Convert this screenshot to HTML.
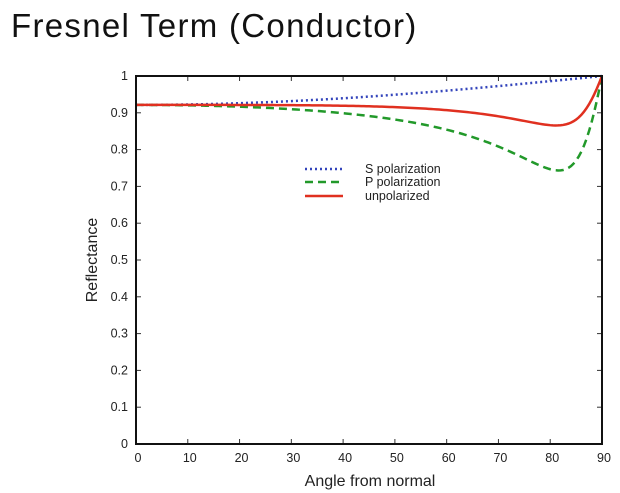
<!DOCTYPE html>
<html><head><meta charset="utf-8"><style>
body{margin:0;background:#fff;width:620px;height:493px;overflow:hidden}
svg{display:block}
text{font-family:"Liberation Sans",sans-serif;fill:#222}
</style></head><body>
<svg id="s" width="620" height="493" xmlns="http://www.w3.org/2000/svg">
<text x="11" y="37" font-size="33" letter-spacing="1.3" style="fill:#111">Fresnel Term (Conductor)</text>
<g id="ax"></g>
<rect x="136" y="76" width="466" height="368" fill="none" stroke="#111" stroke-width="2"/>
<text x="370" y="486" font-size="16" text-anchor="middle">Angle from normal</text>
<text transform="translate(97,260) rotate(-90)" font-size="16" text-anchor="middle">Reflectance</text>
<line x1="305" y1="169" x2="343" y2="169" stroke="#3344bb" stroke-width="2.5" stroke-dasharray="2,3"/>
<line x1="305" y1="182" x2="343" y2="182" stroke="#22992a" stroke-width="2.5" stroke-dasharray="8,5"/>
<line x1="305" y1="196" x2="343" y2="196" stroke="#e03020" stroke-width="2.5"/>
<text x="365" y="173" font-size="12.5">S polarization</text>
<text x="365" y="186" font-size="12.5">P polarization</text>
<text x="365" y="200" font-size="12.5">unpolarized</text>
</svg>
<script>
var ax=document.getElementById('ax'),ns='http://www.w3.org/2000/svg';
function el(t,a,txt){var e=document.createElementNS(ns,t);for(var k in a)e.setAttribute(k,a[k]);if(txt!=null)e.textContent=txt;ax.appendChild(e);return e;}
function X(a){return 136+a*466/90}function Y(r){return 444-r*368}
for(var i=0;i<=9;i++){var x=X(i*10);el('line',{x1:x,y1:444,x2:x,y2:439,stroke:'#333'});el('line',{x1:x,y1:76,x2:x,y2:81,stroke:'#333'});el('text',{x:x+2,y:462,'font-size':12.5,'text-anchor':'middle'},i*10);}
for(var i=0;i<=10;i++){var y=Y(i/10);el('line',{x1:136,y1:y,x2:141,y2:y,stroke:'#333'});el('line',{x1:602,y1:y,x2:597,y2:y,stroke:'#333'});el('text',{x:128,y:y+4,'font-size':12.5,'text-anchor':'end'},i==0?'0':i==10?'1':(i/10).toFixed(1));}
function c(a,b){return[a,b]}function mul(p,q){return[p[0]*q[0]-p[1]*q[1],p[0]*q[1]+p[1]*q[0]]}
function div(p,q){var d=q[0]*q[0]+q[1]*q[1];return[(p[0]*q[0]+p[1]*q[1])/d,(p[1]*q[0]-p[0]*q[1])/d]}
function sqrtc(p){var m=Math.hypot(p[0],p[1]);var r=Math.sqrt((m+p[0])/2),i=Math.sqrt(Math.max(0,(m-p[0])/2));if(p[1]<0)i=-i;return[r,i]}
function add(p,q){return[p[0]+q[0],p[1]+q[1]]}function sub(p,q){return[p[0]-q[0],p[1]-q[1]]}
function ab2(p){return p[0]*p[0]+p[1]*p[1]}
var N=c(1.0,6.85);var N2=mul(N,N);
var S=[],P=[],U=[];
for(var d=0;d<=90;d+=0.5){var t=d*Math.PI/180,ci=c(Math.cos(t),0),s2=Math.sin(t)*Math.sin(t);
var ct=sqrtc(sub(c(1,0),div(c(s2,0),N2)));var Nct=mul(N,ct),Nci=mul(N,ci);
var rs=ab2(div(sub(ci,Nct),add(ci,Nct))),rp=ab2(div(sub(Nci,ct),add(Nci,ct)));
S.push(X(d)+','+Y(rs));P.push(X(d)+','+Y(rp));U.push(X(d)+','+Y((rs+rp)/2));}
el('polyline',{points:S.join(' '),fill:'none',stroke:'#3344bb','stroke-width':2.5,'stroke-dasharray':'2,3'});
el('polyline',{points:P.join(' '),fill:'none',stroke:'#22992a','stroke-width':2.5,'stroke-dasharray':'8,5'});
el('polyline',{points:U.join(' '),fill:'none',stroke:'#e03020','stroke-width':2.5});
</script>
</body></html>
